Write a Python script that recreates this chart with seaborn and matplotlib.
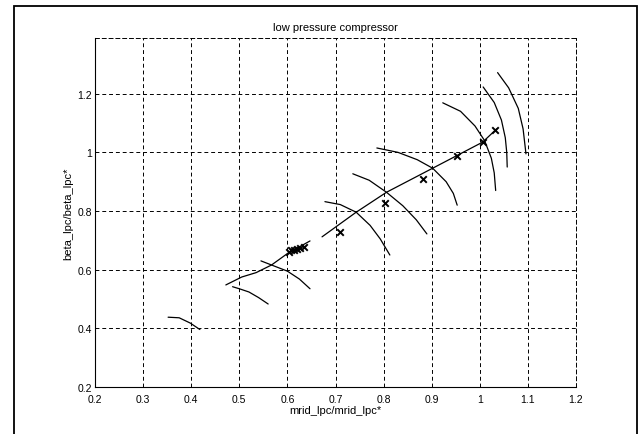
import matplotlib
matplotlib.use("Agg")
import matplotlib.pyplot as plt
import pandas as pd
import seaborn as sns
from matplotlib.patches import Rectangle

# Operating line (two drawn segments)
op1_x = [0.472, 0.505, 0.535, 0.567, 0.600, 0.647]
op1_y = [0.548, 0.575, 0.590, 0.616, 0.655, 0.698]
op2_x = [0.672, 0.743, 0.806, 0.902, 1.006, 1.035]
op2_y = [0.712, 0.796, 0.864, 0.946, 1.035, 1.080]

# Constant-speed lines of the map
s1_x = [0.352, 0.375, 0.398, 0.418]
s1_y = [0.438, 0.436, 0.418, 0.396]
s2_x = [0.486, 0.500, 0.520, 0.540, 0.560]
s2_y = [0.542, 0.535, 0.524, 0.505, 0.483]
s3_x = [0.545, 0.567, 0.600, 0.625, 0.647]
s3_y = [0.630, 0.616, 0.595, 0.568, 0.535]
s4_x = [0.678, 0.710, 0.743, 0.772, 0.793, 0.813]
s4_y = [0.832, 0.822, 0.796, 0.751, 0.705, 0.650]
s5_x = [0.736, 0.770, 0.806, 0.840, 0.868, 0.890]
s5_y = [0.927, 0.905, 0.864, 0.818, 0.770, 0.722]
s6_x = [0.786, 0.830, 0.870, 0.902, 0.930, 0.945, 0.953]
s6_y = [1.015, 1.000, 0.975, 0.946, 0.900, 0.860, 0.820]
s7_x = [0.923, 0.960, 0.990, 1.010, 1.024, 1.030, 1.033]
s7_y = [1.169, 1.140, 1.090, 1.040, 0.980, 0.930, 0.870]
s8_x = [1.007, 1.030, 1.045, 1.053, 1.056, 1.057]
s8_y = [1.223, 1.170, 1.110, 1.050, 1.000, 0.950]
s9_x = [1.037, 1.060, 1.080, 1.090, 1.096]
s9_y = [1.272, 1.220, 1.150, 1.080, 0.995]

# Measured operating points
pt_x = [0.603, 0.608, 0.613, 0.620, 0.627, 0.634, 0.709, 0.803, 0.882, 0.953, 1.006, 1.032]
pt_y = [0.662, 0.666, 0.668, 0.671, 0.675, 0.679, 0.730, 0.827, 0.910, 0.987, 1.035, 1.075]

x_ticks = [0.2, 0.3, 0.4, 0.5, 0.6, 0.7, 0.8, 0.9, 1.0, 1.1, 1.2]
x_tick_labels = ["0.2", "0.3", "0.4", "0.5", "0.6", "0.7", "0.8", "0.9", "1", "1.1", "1.2"]
y_ticks = [0.2, 0.4, 0.6, 0.8, 1.0, 1.2]
y_tick_labels = ["0.2", "0.4", "0.6", "0.8", "1", "1.2"]

curves = [
    ("op1", op1_x, op1_y), ("op2", op2_x, op2_y),
    ("s1", s1_x, s1_y), ("s2", s2_x, s2_y), ("s3", s3_x, s3_y),
    ("s4", s4_x, s4_y), ("s5", s5_x, s5_y), ("s6", s6_x, s6_y),
    ("s7", s7_x, s7_y), ("s8", s8_x, s8_y), ("s9", s9_x, s9_y),
]
lines_df = pd.concat(
    [pd.DataFrame({"curve": name, "m": xs, "beta": ys}) for name, xs, ys in curves],
    ignore_index=True,
)
pts_df = pd.DataFrame({"m": pt_x, "beta": pt_y})

sns.set_theme(style="white")
plt.rcParams["font.family"] = ["Liberation Sans", "DejaVu Sans"]

fig = plt.figure(figsize=(6.39, 4.35), dpi=100)
ax = fig.add_axes([95 / 639, 1 - 388 / 435, 481 / 639, 349 / 435])

sns.lineplot(data=lines_df, x="m", y="beta", units="curve", estimator=None,
             sort=False, color="black", linewidth=0.9, ax=ax, legend=False)
sns.scatterplot(data=pts_df, x="m", y="beta", marker="x", color="black",
                s=22, linewidth=1.4, ax=ax, legend=False)

ax.set_xlim(0.2, 1.2)
ax.set_ylim(0.2, 1.39)
ax.set_xticks(x_ticks)
ax.set_xticklabels(x_tick_labels)
ax.set_yticks(y_ticks)
ax.set_yticklabels(y_tick_labels)
ax.tick_params(axis="both", length=0, labelsize=7.5, colors="black")
ax.tick_params(axis="x", pad=5)
ax.tick_params(axis="y", pad=2)

ax.grid(True, color="black", linestyle=(0, (4, 3)), linewidth=0.7)
for side in ["left", "bottom"]:
    ax.spines[side].set_color("black")
    ax.spines[side].set_linewidth(0.8)
for side in ["top", "right"]:
    ax.spines[side].set_color("black")
    ax.spines[side].set_linewidth(0.7)
    ax.spines[side].set_linestyle((0, (4, 3)))

ax.set_title("low pressure compressor", fontsize=8, pad=6, color="black")
ax.set_xlabel("mrid_lpc/mrid_lpc*", fontsize=8, labelpad=1, color="black")
ax.set_ylabel("beta_lpc/beta_lpc*", fontsize=8, labelpad=3, color="black")

# Outer frame of the figure window
fig.patches.append(Rectangle((14 / 639, -0.05), (637 - 14) / 639, 1.05 - 7 / 435,
                             transform=fig.transFigure, fill=False,
                             edgecolor="black", linewidth=1.3, clip_on=False))

fig.savefig("out.png", dpi=100, facecolor="white")
